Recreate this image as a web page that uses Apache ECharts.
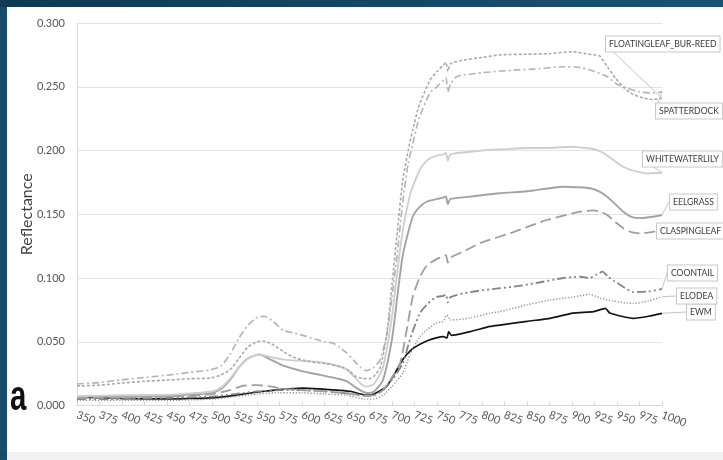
<!DOCTYPE html>
<html>
<head>
<meta charset="utf-8">
<script src="https://cdn.jsdelivr.net/npm/echarts@6/dist/echarts.min.js"></script>
<style>
  html, body { margin: 0; padding: 0; background: #ffffff; }
  #chart { width: 723px; height: 460px; }
</style>
</head>
<body>
<div id="chart"></div>
<script>
// Reflectance spectra (wavelength nm, reflectance) for each aquatic plant class
const floatingleafBurReed = [[350,0.0153],[375,0.016],[400,0.0176],[425,0.019],[453,0.020],[475,0.021],[498,0.0215],[510,0.024],[520,0.028],[530,0.037],[540,0.046],[550,0.050],[557,0.0506],[567,0.048],[580,0.042],[590,0.038],[601,0.0357],[612,0.034],[625,0.033],[645,0.030],[653,0.027],[660,0.0226],[668,0.0212],[675,0.021],[680,0.023],[687,0.030],[694,0.055],[700,0.095],[706,0.137],[712,0.177],[718,0.200],[723,0.216],[730,0.235],[742,0.255],[750,0.262],[757,0.267],[760,0.269],[762,0.262],[765,0.268],[780,0.271],[800,0.273],[820,0.275],[850,0.2755],[875,0.276],[900,0.2775],[915,0.276],[925,0.275],[931,0.274],[939,0.266],[948,0.257],[958,0.249],[968,0.244],[980,0.241],[990,0.240],[1000,0.241]];
const spatterdock = [[350,0.0169],[375,0.018],[398,0.020],[425,0.022],[453,0.024],[475,0.026],[498,0.028],[510,0.031],[520,0.040],[530,0.053],[540,0.063],[550,0.069],[558,0.070],[568,0.066],[579,0.059],[590,0.057],[601,0.055],[615,0.052],[625,0.050],[634,0.049],[642,0.0455],[650,0.041],[657,0.0357],[665,0.030],[672,0.0273],[680,0.030],[687,0.036],[694,0.055],[700,0.085],[706,0.12],[712,0.16],[718,0.19],[723,0.205],[730,0.225],[742,0.245],[750,0.250],[757,0.255],[760,0.257],[762,0.246],[765,0.252],[772,0.258],[800,0.261],[835,0.263],[860,0.264],[890,0.2657],[910,0.265],[925,0.262],[939,0.258],[950,0.252],[961,0.249],[975,0.246],[990,0.245],[1000,0.246]];
const whitewaterlily = [[350,0.0075],[400,0.008],[453,0.0085],[475,0.0095],[500,0.011],[510,0.014],[520,0.021],[530,0.030],[540,0.037],[553,0.040],[565,0.038],[580,0.036],[600,0.035],[620,0.034],[640,0.031],[650,0.028],[660,0.021],[667,0.016],[672,0.0148],[680,0.017],[690,0.030],[700,0.070],[710,0.128],[720,0.165],[731,0.185],[740,0.193],[750,0.196],[757,0.197],[760,0.198],[762,0.192],[765,0.197],[787,0.199],[800,0.200],[825,0.201],[850,0.202],[875,0.202],[900,0.203],[915,0.202],[925,0.201],[935,0.198],[946,0.1925],[955,0.188],[964,0.185],[975,0.183],[983,0.182],[1000,0.1826]];
const eelgrass = [[350,0.007],[400,0.007],[453,0.0075],[475,0.0085],[500,0.010],[510,0.013],[520,0.020],[530,0.030],[540,0.037],[553,0.040],[565,0.036],[580,0.031],[600,0.027],[620,0.024],[640,0.021],[650,0.019],[660,0.014],[667,0.011],[672,0.0098],[680,0.011],[690,0.020],[700,0.052],[705,0.080],[712,0.118],[723,0.148],[731,0.156],[739,0.160],[750,0.162],[757,0.163],[760,0.164],[762,0.158],[765,0.162],[787,0.1638],[820,0.1665],[850,0.168],[890,0.1716],[920,0.1704],[930,0.168],[939,0.1638],[948,0.158],[957,0.152],[966,0.148],[976,0.147],[990,0.148],[1000,0.1494]];
const claspingleaf = [[350,0.006],[400,0.006],[450,0.007],[475,0.0075],[500,0.009],[520,0.012],[535,0.0155],[550,0.016],[565,0.015],[580,0.013],[600,0.012],[625,0.011],[650,0.0095],[670,0.008],[680,0.008],[690,0.012],[700,0.022],[709,0.033],[716,0.058],[723,0.085],[731,0.101],[739,0.110],[750,0.115],[757,0.117],[760,0.118],[762,0.112],[765,0.116],[780,0.121],[798,0.1274],[835,0.136],[872,0.1455],[909,0.152],[924,0.153],[932,0.152],[939,0.1494],[948,0.144],[957,0.139],[966,0.136],[976,0.135],[990,0.1362],[1000,0.1376]];
const coontail = [[350,0.005],[400,0.005],[450,0.006],[500,0.007],[525,0.009],[550,0.011],[575,0.012],[600,0.012],[625,0.011],[650,0.0095],[670,0.0075],[680,0.008],[690,0.012],[700,0.020],[712,0.033],[720,0.052],[731,0.0725],[740,0.080],[749,0.085],[757,0.086],[760,0.087],[762,0.081],[765,0.085],[787,0.089],[820,0.092],[835,0.0932],[860,0.096],[890,0.100],[909,0.101],[920,0.100],[928,0.103],[934,0.105],[940,0.101],[946,0.098],[957,0.093],[968,0.089],[985,0.0895],[1000,0.0914]];
const elodea = [[350,0.004],[400,0.004],[450,0.004],[500,0.005],[525,0.007],[550,0.009],[575,0.010],[600,0.010],[625,0.009],[650,0.008],[670,0.005],[680,0.005],[690,0.008],[700,0.015],[712,0.0255],[720,0.040],[731,0.054],[740,0.060],[749,0.0645],[757,0.066],[761,0.071],[765,0.067],[787,0.0686],[809,0.0725],[820,0.0736],[850,0.079],[876,0.0827],[900,0.085],[920,0.0872],[931,0.0843],[945,0.082],[968,0.080],[985,0.082],[1000,0.0853]];
const ewm = [[350,0.0067],[375,0.006],[400,0.0055],[425,0.0052],[453,0.0051],[475,0.0055],[500,0.006],[525,0.008],[553,0.0108],[575,0.0125],[601,0.0137],[620,0.013],[639,0.012],[655,0.011],[665,0.009],[672,0.0082],[680,0.009],[694,0.015],[703,0.025],[712,0.036],[722,0.044],[731,0.048],[740,0.051],[749,0.053],[757,0.054],[761,0.053],[763,0.058],[766,0.055],[787,0.058],[809,0.062],[820,0.0631],[850,0.066],[876,0.0684],[901,0.0725],[924,0.0736],[937,0.0762],[942,0.0725],[955,0.070],[968,0.0684],[985,0.070],[1000,0.0723]];

const seriesNames = ['FLOATINGLEAF_BUR-REED','SPATTERDOCK','WHITEWATERLILY','EELGRASS','CLASPINGLEAF','COONTAIL','ELODEA','EWM'];
const seriesData = [floatingleafBurReed, spatterdock, whitewaterlily, eelgrass, claspingleaf, coontail, elodea, ewm];

// Axis settings
const xMin = 350, xMax = 1000, xStep = 25;
const yMin = 0, yMax = 0.3, yStep = 0.05;

// Line styles per series
const styles = [
  { color: '#a9a9a9', width: 1.6, type: [3, 2] },
  { color: '#b3b3b3', width: 1.6, type: [7, 3, 2, 3] },
  { color: '#cfcfcf', width: 1.9, type: 'solid' },
  { color: '#a3a3a3', width: 1.9, type: 'solid' },
  { color: '#9e9e9e', width: 1.8, type: [11, 5] },
  { color: '#858585', width: 1.8, type: [9, 3, 2, 3, 2, 3] },
  { color: '#8f8f8f', width: 1.4, type: [1.2, 1.8] },
  { color: '#141414', width: 1.7, type: 'solid' }
];

// Where each callout box sits (left edge x, centre y)
const calloutSpots = [[606, 44], [656, 111], [643, 159], [670, 202], [657, 231], [668, 273], [677, 296], [687, 312]];

const font = 'Lato, "Open Sans", sans-serif';

const chart = echarts.init(document.getElementById('chart'), null, { renderer: 'canvas' });

const series = seriesData.map((d, i) => ({
  name: seriesNames[i],
  type: 'line',
  symbol: 'circle',
  symbolSize: 0,
  showSymbol: true,
  showAllSymbol: true,
  smooth: 0.2,
  z: 10 - i,
  lineStyle: { color: styles[i].color, width: styles[i].width, type: styles[i].type },
  itemStyle: { color: styles[i].color },
  data: d.map((p, j) => j === d.length - 1
    ? { value: p, label: { show: true } }
    : { value: p }),
  label: {
    show: false,
    formatter: '{a}',
    fontFamily: font,
    fontSize: 8.6,
    lineHeight: 10,
    color: '#3a3a3a',
    backgroundColor: '#ffffff',
    borderColor: '#c8c8c8',
    borderWidth: 1,
    padding: [3, 3, 2, 3]
  },
  labelLine: { show: true, lineStyle: { color: '#c4c4c4', width: 1 } },
  labelLayout: function (params) {
    const s = calloutSpots[params.seriesIndex];
    return { x: s[0], y: s[1], align: 'left', verticalAlign: 'middle' };
  }
}));

chart.setOption({
  backgroundColor: '#ffffff',
  animation: false,
  grid: { left: 77, right: 61, top: 23, bottom: 54.5, containLabel: false },
  xAxis: {
    type: 'value',
    min: xMin, max: xMax, interval: xStep,
    axisLine: { show: true, lineStyle: { color: '#d9d9d9', width: 1 } },
    axisTick: { show: true, inside: true, length: 4, lineStyle: { color: '#d9d9d9' } },
    splitLine: { show: false },
    axisLabel: {
      rotate: -20, margin: 9, fontFamily: font, fontSize: 11, color: '#555555',
      showMaxLabel: true, showMinLabel: true,
      formatter: v => String(v)
    }
  },
  yAxis: {
    type: 'value',
    min: yMin, max: yMax, interval: yStep,
    name: 'Reflectance',
    nameLocation: 'middle',
    nameGap: 42,
    nameMoveOverlap: false,
    nameTextStyle: { fontFamily: font, fontSize: 16, color: '#3f3f3f' },
    axisLine: { show: true, lineStyle: { color: '#d9d9d9', width: 1 } },
    axisTick: { show: false },
    splitLine: { show: true, lineStyle: { color: '#e3e3e3', width: 1 } },
    axisLabel: {
      margin: 12, fontFamily: font, fontSize: 11, color: '#555555',
      formatter: v => v.toFixed(3)
    }
  },
  graphic: [
    { type: 'rect', left: 0, top: 0, z: 100, shape: { width: 7, height: 460 }, style: { fill: '#174b69' } },
    { type: 'rect', left: 0, top: 0, z: 100, shape: { width: 723, height: 7 },
      style: { fill: new echarts.graphic.LinearGradient(0, 0, 1, 0, [
        { offset: 0, color: '#0f3a51' }, { offset: 1, color: '#1b5272' }]) } },
    { type: 'rect', left: 7, top: 452, z: 100, shape: { width: 716, height: 8 }, style: { fill: '#f1f1f1' } },
    { type: 'text', x: 10, y: 419, z: 100, scaleX: 0.7,
      style: { text: 'a', font: 'bold 42px "Liberation Sans", Arial, sans-serif', fill: '#111111', textVerticalAlign: 'bottom' } }
  ],
  series: series
});
</script>
</body>
</html>
